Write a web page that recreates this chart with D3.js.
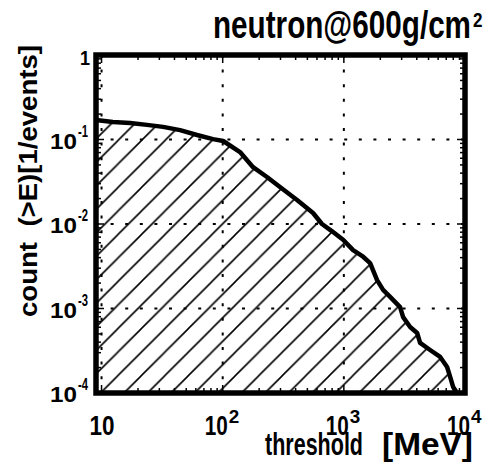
<!DOCTYPE html>
<html><head><meta charset="utf-8">
<script src="https://cdn.jsdelivr.net/npm/d3@7"></script>
<style>
html,body{margin:0;padding:0;background:#fff;}
svg{display:block;}
text{font-family:"Liberation Sans",Arial,Helvetica,sans-serif;font-weight:bold;fill:#000;white-space:pre;}
</style>
</head><body>
<svg id="c" width="485" height="464"></svg>
<script>
// ---- data ----
const energy = [9, 12.4, 17.2, 23.7, 32.2, 44.5, 61.4, 83.2, 101, 139, 178, 232, 297, 411, 557, 660, 790, 986, 1192, 1442, 1648, 1881, 2109, 2410, 2913, 3085, 3524, 4027, 4260, 5152, 6237, 7117, 7540, 7980, 8610];
const counts = [0.170, 0.161, 0.157, 0.149, 0.141, 0.129, 0.113, 0.101, 0.096, 0.071, 0.047, 0.036, 0.0274, 0.0192, 0.0135, 0.0100, 0.0083, 0.0065, 0.0049, 0.0041, 0.00345, 0.00217, 0.00166, 0.00137, 0.00104, 0.00079, 0.000604, 0.000513, 0.000391, 0.000323, 0.000267, 0.000203, 0.000155, 0.000118, 0.0001];
const xTicks = [10, 100, 1000, 10000];
const xTickSup = ["", "2", "3", "4"];
const yTicks = [1, 0.1, 0.01, 0.001, 0.0001];
const yTickSup = ["", "-1", "-2", "-3", "-4"];
const titleText = "neutron@600g/cm";
const titleSup = "2";
const xLabelParts = ["threshold", "[MeV]"];
const yLabelText = "count  (>E)[1/events]";

const svg = d3.select("#c");
const x = d3.scaleLog().domain([9, 1e4]).range([96, 465]);
const y = d3.scaleLog().domain([1e-4, 1]).range([393, 55]);
const [xl, xr] = x.range();
const [yb, yt] = y.range();

// hatch pattern
const defs = svg.append("defs");
const s = 23.5;
const pat = defs.append("pattern").attr("id", "hatch").attr("patternUnits", "userSpaceOnUse")
  .attr("width", s).attr("height", s);
pat.append("path")
  .attr("d", `M0,${s} L${s},0 M${-s/2},${s/2} L${s/2},${-s/2} M${s/2},${s*1.5} L${s*1.5},${s/2}`)
  .attr("stroke", "#000").attr("stroke-width", 1.6).attr("fill", "none");
defs.append("clipPath").attr("id", "clip").append("rect")
  .attr("x", xl).attr("y", yt).attr("width", xr - xl).attr("height", yb - yt);

const data = energy.map((e, i) => [e, counts[i]]);

// area with hatch
svg.append("path").datum(data)
  .attr("clip-path", "url(#clip)")
  .attr("fill", "url(#hatch)")
  .attr("d", d3.area().x(d => x(d[0])).y0(yb).y1(d => y(d[1])));

// grid lines
const grid = svg.append("g").attr("stroke", "#000").attr("stroke-width", 2)
  .attr("stroke-dasharray", "3,11.6");
xTicks.filter(t => x(t) > xl + 1 && x(t) < xr - 1).forEach(t => {
  grid.append("line").attr("x1", x(t)).attr("x2", x(t)).attr("y1", yt).attr("y2", yb);
});
yTicks.filter(t => y(t) < yb - 1 && y(t) > yt + 1).forEach(t => {
  grid.append("line").attr("y1", y(t)).attr("y2", y(t)).attr("x1", xl).attr("x2", xr);
});

// ticks (major and minor, inside)
const tk = svg.append("g").attr("stroke", "#000").attr("stroke-width", 1.5);
const xMinor = [];
for (let k = 0; k <= 4; k++) for (let m = 1; m <= 9; m++) {
  const v = m * Math.pow(10, k);
  if (v > 9 && v < 1e4) xMinor.push([v, m === 1]);
}
xMinor.forEach(([v, major]) => {
  const L = major ? 8 : 5;
  tk.append("line").attr("x1", x(v)).attr("x2", x(v)).attr("y1", yb).attr("y2", yb - L);
  tk.append("line").attr("x1", x(v)).attr("x2", x(v)).attr("y1", yt).attr("y2", yt + L);
});
const yMinor = [];
for (let k = -4; k <= 0; k++) for (let m = 1; m <= 9; m++) {
  const v = m * Math.pow(10, k);
  if (v > 1e-4 * 1.001 && v < 0.999) yMinor.push([v, m === 1]);
}
yMinor.forEach(([v, major]) => {
  const L = major ? 8 : 5;
  tk.append("line").attr("y1", y(v)).attr("y2", y(v)).attr("x1", xl).attr("x2", xl + L);
  tk.append("line").attr("y1", y(v)).attr("y2", y(v)).attr("x1", xr).attr("x2", xr - L);
});

// curve
svg.append("path").datum(data)
  .attr("fill", "none").attr("stroke", "#000").attr("stroke-width", 4.5)
  .attr("stroke-linejoin", "round")
  .attr("d", d3.line().x(d => x(d[0])).y(d => y(d[1])));

// frame
svg.append("rect").attr("x", xl).attr("y", yt).attr("width", xr - xl).attr("height", yb - yt)
  .attr("fill", "none").attr("stroke", "#000").attr("stroke-width", 5.5);

// text helper: left-anchored at (x0, base), fitted to width len, stretched vertically by k
function txt(x0, base, str, size, len, k) {
  return svg.append("text")
    .attr("transform", `translate(${x0},${base}) scale(1,${k})`)
    .attr("x", 0).attr("y", 0).attr("font-size", size)
    .attr("textLength", len).attr("lengthAdjust", "spacingAndGlyphs").text(str);
}

// x tick labels
xTicks.forEach((t, i) => {
  const px = x(t);
  if (xTickSup[i] === "") {
    txt(px - 12, 435, "10", 22, 25, 1.27);
  } else {
    txt(px - 18, 435, "10", 22, 23, 1.27);
    txt(px + 6, 423, xTickSup[i], 18, 10.5, 1.0);
  }
});

// y tick labels
yTicks.forEach((t, i) => {
  const py = y(t);
  if (yTickSup[i] === "") {
    txt(80, py + 10, "1", 18, 10, 1.15);
  } else {
    txt(50, py + 9, "10", 24, 27, 0.9);
    txt(78, py - 3, yTickSup[i], 13, 10, 1.25);
  }
});

// title
txt(213, 38, titleText, 29.5, 258, 1.3);
txt(473, 27, titleSup, 18, 9.5, 1.15);

// x label
txt(265, 455, xLabelParts[0], 25, 98, 1.27);
txt(382, 455, xLabelParts[1], 25, 91, 1.22);

// y label
svg.append("text")
  .attr("transform", "translate(37,181) rotate(-90)")
  .attr("text-anchor", "middle")
  .attr("font-size", 25)
  .attr("textLength", 272).attr("lengthAdjust", "spacingAndGlyphs")
  .text(yLabelText);
</script>
</body></html>
